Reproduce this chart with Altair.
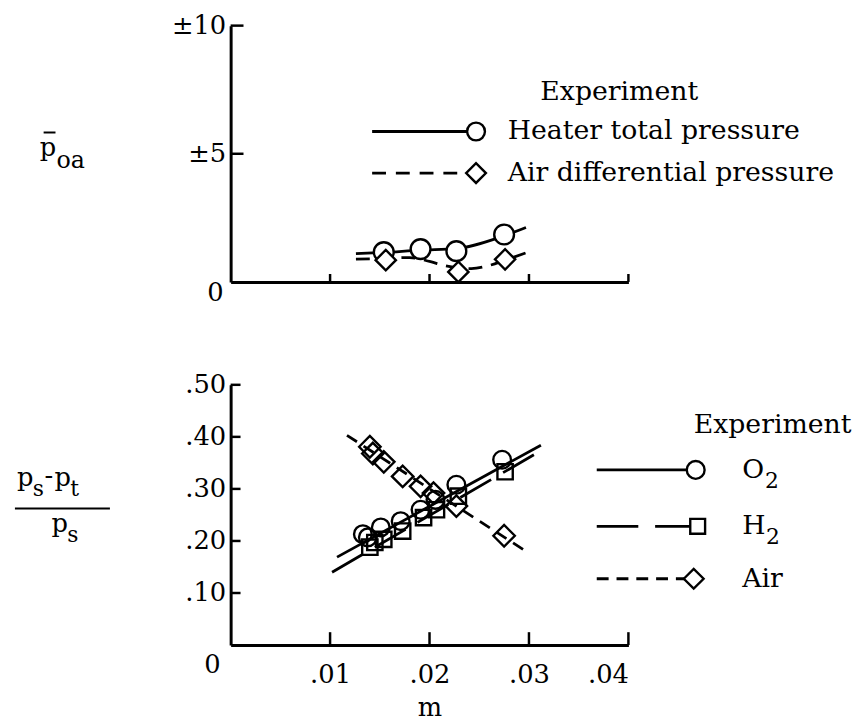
import altair as alt
import pandas as pd

FONT = "DejaVu Serif"
FS = 26      # tick labels / titles
LFS = 27     # legend text
W = 402
H_TOP = 259
H_BOT = 263

# ---------------- top panel data (m, p_oa) ----------------
heater_m = [0.0154, 0.0191, 0.0227, 0.0275]
heater_p = [1.16, 1.28, 1.20, 1.85]
heater_curve_m = [0.0126, 0.0154, 0.0191, 0.0227, 0.0275, 0.0297]
heater_curve_p = [1.10, 1.15, 1.24, 1.30, 1.80, 2.12]
airdiff_m = [0.0156, 0.0229, 0.0276]
airdiff_p = [0.85, 0.39, 0.88]
airdiff_curve_m = [0.0126, 0.0156, 0.0180, 0.0200, 0.0215, 0.0242, 0.0260, 0.0276, 0.0299]
airdiff_curve_p = [0.89, 0.92, 0.95, 0.80, 0.64, 0.52, 0.64, 0.85, 1.16]

# ---------------- bottom panel data (m, (ps-pt)/ps) ----------------
o2_m = [0.0133, 0.0138, 0.0151, 0.0171, 0.0191, 0.0206, 0.0227, 0.0273]
o2_v = [0.213, 0.207, 0.226, 0.238, 0.260, 0.279, 0.308, 0.356]
h2_m = [0.0140, 0.0145, 0.0154, 0.0173, 0.0194, 0.0207, 0.0229, 0.0276]
h2_v = [0.188, 0.197, 0.203, 0.219, 0.245, 0.260, 0.286, 0.333]
air_m = [0.0140, 0.0143, 0.0154, 0.0173, 0.0191, 0.0204, 0.0227, 0.0275]
air_v = [0.381, 0.368, 0.352, 0.324, 0.305, 0.292, 0.267, 0.210]
o2_fit_m = [0.0107, 0.0312]
o2_fit_v = [0.169, 0.384]
h2_fit_m = [0.0102, 0.0307]
h2_fit_v = [0.140, 0.368]
air_fit_m = [0.0117, 0.0298]
air_fit_v = [0.403, 0.179]

# ---------------- ticks / labels ----------------
x_ticks = [0.01, 0.02, 0.03, 0.04]
top_y_ticks = [5, 10]
bot_y_ticks = [0.10, 0.20, 0.30, 0.40, 0.50]
top_legend_labels = ["Heater total pressure", "Air differential pressure"]
bot_legend_labels = ["O", "H", "Air"]
bot_legend_subs = ["2", "2", ""]
legend_title = "Experiment"

xscale = alt.Scale(domain=[0, 0.04], nice=False, zero=False)
top_yscale = alt.Scale(domain=[0, 10], nice=False)
bot_yscale = alt.Scale(domain=[0, 0.5], nice=False)

top_xaxis = alt.Axis(domain=True, domainWidth=3, domainColor="black", ticks=False,
                     tickSize=0, labels=False, grid=False, title=None)
top_yaxis = alt.Axis(values=top_y_ticks, labelExpr="'±' + datum.value", ticks=False, tickSize=0,
                     labelPadding=5, labelFont=FONT, labelFontSize=FS, labelColor="black",
                     domainWidth=3, domainColor="black", grid=False, title=None)
bot_xaxis = alt.Axis(values=x_ticks, labelExpr="replace(format(datum.value, '.2f'), '0.', '.')",
                     ticks=False, tickSize=0, labelPadding=30, labelBaseline="middle",
                     labelFont=FONT, labelFontSize=FS, labelColor="black",
                     domainWidth=3, domainColor="black", grid=False,
                     title="m", titleFont=FONT, titleFontSize=FS, titleFontWeight="normal",
                     titleColor="black", titlePadding=7)
bot_yaxis = alt.Axis(values=bot_y_ticks, labelExpr="replace(format(datum.value, '.2f'), '0.', '.')",
                     ticks=False, tickSize=0, labelPadding=5, labelFont=FONT, labelFontSize=FS,
                     labelColor="black", domainWidth=3, domainColor="black", grid=False, title=None)

XT = alt.X("m:Q", scale=xscale, axis=top_xaxis)
YT = alt.Y("v:Q", scale=top_yscale, axis=top_yaxis)
XB = alt.X("m:Q", scale=xscale, axis=bot_xaxis)
YB = alt.Y("v:Q", scale=bot_yscale, axis=bot_yaxis)


def df(m, v):
    return pd.DataFrame({"m": m, "v": v})


def curve(m, v, X, Y, dash=None, interp="linear"):
    kw = dict(color="black", strokeWidth=2.8, interpolate=interp)
    if dash:
        kw["strokeDash"] = dash
    return alt.Chart(df(m, v)).mark_line(**kw).encode(x=X, y=Y)


def points(m, v, X, Y, shape, size, fill="white"):
    return alt.Chart(df(m, v)).mark_point(shape=shape, size=size, filled=True, fill=fill,
                                          stroke="black", strokeWidth=2.4, opacity=1).encode(x=X, y=Y)


def legend_entry(label, shape, size, dash, x0, xs, xt, y, sub="", subdx=22):
    d = pd.DataFrame({"label": [label], "sub": [sub]})
    base = alt.Chart(d)
    kw = dict(color="black", strokeWidth=2.8)
    if dash:
        kw["strokeDash"] = dash
    layers = [
        base.mark_rule(**kw).encode(x=alt.value(x0), x2=alt.value(xs), y=alt.value(y)),
        base.mark_point(shape=shape, size=size, filled=True, fill="white", stroke="black",
                        strokeWidth=2.4, opacity=1).encode(x=alt.value(xs), y=alt.value(y)),
        base.mark_text(font=FONT, fontSize=LFS, align="left", baseline="middle", color="black")
            .encode(x=alt.value(xt), y=alt.value(y), text="label:N"),
    ]
    if sub:
        layers.append(
            base.mark_text(font=FONT, fontSize=22, align="left", baseline="middle", color="black",
                           dx=subdx, dy=11).encode(x=alt.value(xt), y=alt.value(y), text="sub:N"))
    return layers


def text_piece(s, x, y, size=FS, baseline="alphabetic", align="left"):
    return alt.Chart(pd.DataFrame({"t": [s]})).mark_text(
        font=FONT, fontSize=size, align=align, baseline=baseline, color="black"
    ).encode(x=alt.value(x), y=alt.value(y), text="t:N")


# ---------------- top panel ----------------
top_layers = [
    curve(heater_curve_m, heater_curve_p, XT, YT, interp="monotone"),
    curve(airdiff_curve_m, airdiff_curve_p, XT, YT, dash=[14, 9], interp="monotone"),
    points(heater_m, heater_p, XT, YT, "circle", 400),
    points(airdiff_m, airdiff_p, XT, YT, "diamond", 420),
    alt.Chart(pd.DataFrame({"m": x_ticks})).mark_rule(color="black", strokeWidth=2.5)
        .encode(x=XT, y=alt.value(H_TOP), y2=alt.value(H_TOP - 8)),
    alt.Chart(pd.DataFrame({"v": top_y_ticks})).mark_rule(color="black", strokeWidth=2.5)
        .encode(y=YT, x=alt.value(0), x2=alt.value(13)),
    alt.Chart(pd.DataFrame({"m": [0.0], "v": [0.0], "t": ["0"]})).mark_text(
        font=FONT, fontSize=FS, align="right", baseline="middle", color="black", dx=-7, dy=11)
        .encode(x=XT, y=YT, text="t:N"),
    text_piece(legend_title, 313, 67, size=LFS, baseline="middle"),
]
top_layers += legend_entry(top_legend_labels[0], "circle", 324, None, 143, 248, 280, 107)
top_layers += legend_entry(top_legend_labels[1], "diamond", 400, [14, 10], 143, 248, 280, 149)
# y title  p̄_oa
top_layers += [
    text_piece("p", -193, 132),
    text_piece("oa", -176, 144, size=24),
    alt.Chart(pd.DataFrame({"t": ["bar"]})).mark_rule(color="black", strokeWidth=2)
        .encode(x=alt.value(-189), x2=alt.value(-177), y=alt.value(108)),
]
top = alt.layer(*top_layers).properties(width=W, height=H_TOP)

# ---------------- bottom panel ----------------
bot_layers = [
    curve(o2_fit_m, o2_fit_v, XB, YB),
    curve(h2_fit_m, h2_fit_v, XB, YB, dash=[36, 14]),
    curve(air_fit_m, air_fit_v, XB, YB, dash=[12, 8]),
    points(air_m, air_v, XB, YB, "diamond", 470, fill="transparent"),
    points(h2_m, h2_v, XB, YB, "square", 240, fill="transparent"),
    points(o2_m, o2_v, XB, YB, "circle", 320, fill="transparent"),
    alt.Chart(pd.DataFrame({"m": x_ticks})).mark_rule(color="black", strokeWidth=2.5)
        .encode(x=XB, y=alt.value(H_BOT), y2=alt.value(H_BOT - 13)),
    alt.Chart(pd.DataFrame({"v": bot_y_ticks})).mark_rule(color="black", strokeWidth=2.5)
        .encode(y=YB, x=alt.value(0), x2=alt.value(10)),
    alt.Chart(pd.DataFrame({"m": [0.0], "v": [0.0], "t": ["0"]})).mark_text(
        font=FONT, fontSize=FS, align="right", baseline="middle", color="black", dx=-10, dy=20)
        .encode(x=XB, y=YB, text="t:N"),
    text_piece(legend_title, 468, 41, size=LFS, baseline="middle"),
]
bot_layers += legend_entry(bot_legend_labels[0], "circle", 324, None, 370, 470, 517, 86,
                           bot_legend_subs[0], subdx=23)
bot_layers += legend_entry(bot_legend_labels[1], "square", 225, [42, 17], 370, 472, 517, 143,
                           bot_legend_subs[1], subdx=24)
bot_layers += legend_entry(bot_legend_labels[2], "diamond", 400, [12, 8], 370, 468, 517, 196)
# y title (ps - pt)/ps
bot_layers += [
    text_piece("p", -216, 102),
    text_piece("s", -200, 112, size=22),
    text_piece("-", -188, 100),
    text_piece("p", -178, 102),
    text_piece("t", -162, 112, size=22),
    alt.Chart(pd.DataFrame({"t": ["line"]})).mark_rule(color="black", strokeWidth=2.2)
        .encode(x=alt.value(-218), x2=alt.value(-122), y=alt.value(125)),
    text_piece("p", -181, 149),
    text_piece("s", -165, 159, size=22),
]
bottom = alt.layer(*bot_layers).properties(width=W, height=H_BOT)

chart = alt.vconcat(top, bottom, spacing=65).configure_view(stroke="transparent").properties(
    padding={"left": 5, "top": 0, "right": 2, "bottom": 2}
)

chart.save("out.html", embed_options={"renderer": "svg", "actions": False})
